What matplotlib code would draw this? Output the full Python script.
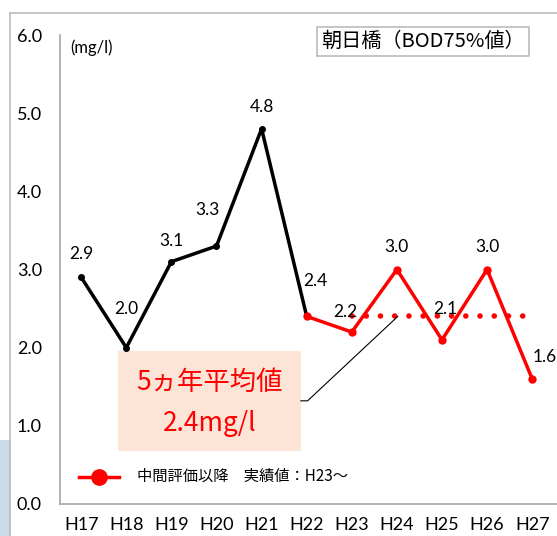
import matplotlib.pyplot as plt
from matplotlib.patches import Rectangle

plt.rcParams['font.family'] = ['Lato', 'Noto Sans CJK JP', 'DejaVu Sans']

years = ["H17", "H18", "H19", "H20", "H21", "H22", "H23", "H24", "H25", "H26", "H27"]
before = [2.9, 2.0, 3.1, 3.3, 4.8, 2.4]
after = [2.4, 2.2, 3.0, 2.1, 3.0, 1.6]
avg_value = 2.4
avg_years = ["H23", "H27"]

x_before = list(range(len(before)))
x_after = list(range(len(before) - 1, len(years)))

fig = plt.figure(figsize=(5.57, 5.36), dpi=100)
ax = fig.add_axes([60 / 557, (536 - 504) / 536, (557 - 60) / 557, (504 - 35) / 536])

# frame of the original slide
fig.add_artist(Rectangle((0, 0), 10 / 557, 96 / 536, transform=fig.transFigure,
                         facecolor="#CADBE7", edgecolor="none"))
fig.add_artist(plt.Line2D([10 / 557, 10 / 557], [0, 1 - 13 / 536], transform=fig.transFigure,
                          color="#BBBBBB", lw=1.2))
fig.add_artist(plt.Line2D([10 / 557, 1], [1 - 13 / 536, 1 - 13 / 536], transform=fig.transFigure,
                          color="#BBBBBB", lw=1.2))

ax.plot(x_before, before, color="black", lw=2.5, marker="o", ms=4)
ax.plot(x_after, after, color="red", lw=2.5, marker="o", ms=5, zorder=3)
ax.plot([years.index(avg_years[0]), years.index(avg_years[1])], [avg_value, avg_value],
        color="red", lw=4, ls=(0, (0.01, 2.55)), dash_capstyle="round", zorder=2)

# data labels (offsets in pixels)
offsets = [(0, 23), (0, 39), (0, 21), (-9, 36), (0, 22), (9, 35),
           (-7, 20), (0, 22), (3, 31), (0, 22), (12, 22)]
values = before + after[1:]
for i, (v, off) in enumerate(zip(values, offsets)):
    ax.annotate(f"{v:.1f}", (i, v), xytext=off, textcoords="offset pixels",
                ha="center", va="center", fontsize=12.5)

ax.set_xlim(-0.47, 10.55)
ax.set_ylim(0, 6)
ax.set_yticks([0, 1, 2, 3, 4, 5, 6])
ax.set_yticklabels([f"{t:.1f}" for t in range(7)], fontsize=13)
ax.set_xticks(range(len(years)))
ax.set_xticklabels(years, fontsize=13)
ax.tick_params(axis="y", length=0, pad=13)
ax.tick_params(axis="x", length=0, pad=9)
for s in ["top", "right"]:
    ax.spines[s].set_visible(False)
for s in ["left", "bottom"]:
    ax.spines[s].set_color("#A6A6A6")
    ax.spines[s].set_linewidth(1.2)

ax.text(0.02, 0.99, "(mg/l)", transform=ax.transAxes, fontsize=12, va="top")
ax.text(0.73, 0.986, "朝日橋（BOD75%値）", transform=ax.transAxes, fontsize=14.5,
        ha="center", va="center", family=["Noto Sans CJK JP"],
        bbox=dict(boxstyle="square,pad=0.2", facecolor="white", edgecolor="#BBBBBB", lw=1.2))

# average callout
ax.add_patch(Rectangle((0.82, 0.68), 4.05, 1.28, facecolor="#FCE4D6", edgecolor="none", zorder=1))
ax.plot([4.87, 5.02, 7.02], [1.32, 1.32, avg_value], color="black", lw=0.8, zorder=2)
ax.text(2.85, 1.55, "5ヵ年平均値", color="red", fontsize=19, ha="center", va="center",
        family=["Noto Sans CJK JP"], zorder=4)
ax.text(2.85, 1.03, "2.4mg/l", color="red", fontsize=19, ha="center", va="center",
        family=["Noto Sans CJK JP"], zorder=4)

# legend
ax.plot([-0.04, 0.84], [0.35, 0.35], color="red", lw=2.5)
ax.plot([0.4], [0.35], color="red", marker="o", ms=11)
ax.text(1.24, 0.35, "中間評価以降　実績値：H23～", fontsize=11, va="center",
        family=["Noto Sans CJK JP"])

plt.savefig("out.png", dpi=100)
